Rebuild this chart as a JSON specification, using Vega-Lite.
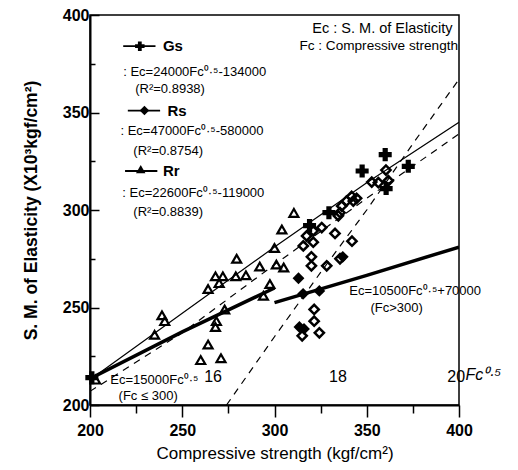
{
  "$schema": "https://vega.github.io/schema/vega-lite/v6.json",
  "width": 369,
  "height": 390,
  "autosize": {"type": "none"},
  "padding": {"left": 90, "top": 15, "right": 59, "bottom": 65},
  "background": "white",
  "config": {
    "view": {"stroke": "black", "strokeWidth": 1.5},
    "font": "Liberation Sans"
  },
  "datasets": {
    "pts": [
      {"fc": 235, "ec": 236, "type": "Rr"},
      {"fc": 239, "ec": 246, "type": "Rr"},
      {"fc": 240.5, "ec": 243, "type": "Rr"},
      {"fc": 260, "ec": 223, "type": "Rr"},
      {"fc": 271, "ec": 224, "type": "Rr"},
      {"fc": 264, "ec": 231, "type": "Rr"},
      {"fc": 268, "ec": 240, "type": "Rr"},
      {"fc": 268.5, "ec": 243, "type": "Rr"},
      {"fc": 273, "ec": 249, "type": "Rr"},
      {"fc": 264, "ec": 259.5, "type": "Rr"},
      {"fc": 268, "ec": 266, "type": "Rr"},
      {"fc": 272, "ec": 266, "type": "Rr"},
      {"fc": 270, "ec": 262.5, "type": "Rr"},
      {"fc": 279.5, "ec": 275, "type": "Rr"},
      {"fc": 279, "ec": 266, "type": "Rr"},
      {"fc": 284.5, "ec": 266.5, "type": "Rr"},
      {"fc": 292, "ec": 271, "type": "Rr"},
      {"fc": 294, "ec": 256, "type": "Rr"},
      {"fc": 297.5, "ec": 262, "type": "Rr"},
      {"fc": 300, "ec": 280.5, "type": "Rr"},
      {"fc": 301, "ec": 272, "type": "Rr"},
      {"fc": 305, "ec": 270.5, "type": "Rr"},
      {"fc": 304, "ec": 290, "type": "Rr"},
      {"fc": 310.5, "ec": 298.5, "type": "Rr"},
      {"fc": 203, "ec": 213, "type": "Rr"},
      {"fc": 201, "ec": 214, "type": "Gs"},
      {"fc": 360, "ec": 328.4, "type": "Gs"},
      {"fc": 372.5, "ec": 322.4, "type": "Gs"},
      {"fc": 347.5, "ec": 320, "type": "Gs"},
      {"fc": 360.5, "ec": 311, "type": "Gs"},
      {"fc": 329.5, "ec": 298.6, "type": "Gs"},
      {"fc": 319, "ec": 292, "type": "Gs"},
      {"fc": 313, "ec": 265, "type": "RsF"},
      {"fc": 315.5, "ec": 257, "type": "RsF"},
      {"fc": 324.3, "ec": 258.5, "type": "RsF"},
      {"fc": 313.5, "ec": 240, "type": "RsF"},
      {"fc": 316, "ec": 239, "type": "RsF"},
      {"fc": 337, "ec": 276, "type": "RsF"},
      {"fc": 341.8, "ec": 307, "type": "RsO"},
      {"fc": 339, "ec": 304.6, "type": "RsO"},
      {"fc": 336.4, "ec": 302, "type": "RsO"},
      {"fc": 342.7, "ec": 304.6, "type": "RsO"},
      {"fc": 344.5, "ec": 306, "type": "RsO"},
      {"fc": 335.5, "ec": 298.6, "type": "RsO"},
      {"fc": 334.6, "ec": 297, "type": "RsO"},
      {"fc": 352.7, "ec": 314.3, "type": "RsO"},
      {"fc": 356.3, "ec": 314, "type": "RsO"},
      {"fc": 360.4, "ec": 320.5, "type": "RsO"},
      {"fc": 361.7, "ec": 315, "type": "RsO"},
      {"fc": 325.6, "ec": 291, "type": "RsO"},
      {"fc": 321, "ec": 289.3, "type": "RsO"},
      {"fc": 317.4, "ec": 286.7, "type": "RsO"},
      {"fc": 315.6, "ec": 281.6, "type": "RsO"},
      {"fc": 321, "ec": 283.5, "type": "RsO"},
      {"fc": 332.8, "ec": 288, "type": "RsO"},
      {"fc": 342, "ec": 284, "type": "RsO"},
      {"fc": 320, "ec": 276, "type": "RsO"},
      {"fc": 335.5, "ec": 275, "type": "RsO"},
      {"fc": 320, "ec": 271.4, "type": "RsO"},
      {"fc": 328.3, "ec": 271.4, "type": "RsO"},
      {"fc": 321.5, "ec": 249, "type": "RsO"},
      {"fc": 321.5, "ec": 243, "type": "RsO"},
      {"fc": 324.3, "ec": 237, "type": "RsO"},
      {"fc": 315, "ec": 235.5, "type": "RsO"}
    ],
    "lines": [
      {"fc": 200, "ec": 213, "line": "Gs"},
      {"fc": 250, "ec": 247, "line": "Gs"},
      {"fc": 300, "ec": 281, "line": "Gs"},
      {"fc": 350, "ec": 314, "line": "Gs"},
      {"fc": 400, "ec": 345, "line": "Gs"},
      {"fc": 200, "ec": 207, "line": "Rr"},
      {"fc": 250, "ec": 237, "line": "Rr"},
      {"fc": 300, "ec": 272, "line": "Rr"},
      {"fc": 350, "ec": 306, "line": "Rr"},
      {"fc": 400, "ec": 339, "line": "Rr"},
      {"fc": 274, "ec": 200, "line": "Rs"},
      {"fc": 300, "ec": 235, "line": "Rs"},
      {"fc": 325, "ec": 268, "line": "Rs"},
      {"fc": 350, "ec": 300, "line": "Rs"},
      {"fc": 375, "ec": 334, "line": "Rs"},
      {"fc": 400, "ec": 367, "line": "Rs"},
      {"fc": 200, "ec": 213.5, "line": "T1"},
      {"fc": 250, "ec": 237.5, "line": "T1"},
      {"fc": 300, "ec": 260, "line": "T1"},
      {"fc": 300, "ec": 252.5, "line": "T2"},
      {"fc": 350, "ec": 266.5, "line": "T2"},
      {"fc": 400, "ec": 281, "line": "T2"}
    ],
    "leg": [
      {"fc": 218, "ec": 384, "g": "Gs"},
      {"fc": 235.5, "ec": 384, "g": "Gs"},
      {"fc": 220.5, "ec": 351, "g": "Rs"},
      {"fc": 238, "ec": 351, "g": "Rs"},
      {"fc": 219, "ec": 320, "g": "Rr"},
      {"fc": 236.5, "ec": 320, "g": "Rr"}
    ],
    "legpts": [
      {"fc": 227, "ec": 384, "type": "Gs"},
      {"fc": 229.5, "ec": 351, "type": "Rs"},
      {"fc": 227.5, "ec": 321, "type": "Rr"}
    ],
    "eq": [
      {"fc": 218, "ec": 370.8, "text": ": Ec=24000Fc⁰·⁵-134000"},
      {"fc": 224.5, "ec": 362, "text": "(R²=0.8938)"},
      {"fc": 216.5, "ec": 340.5, "text": ": Ec=47000Fc⁰·⁵-580000"},
      {"fc": 223.5, "ec": 330.3, "text": "(R²=0.8754)"},
      {"fc": 217.5, "ec": 308.7, "text": ": Ec=22600Fc⁰·⁵-119000"},
      {"fc": 223.5, "ec": 299, "text": "(R²=0.8839)"},
      {"fc": 340.5, "ec": 258.5, "text": "Ec=10500Fc⁰·⁵+70000"},
      {"fc": 352, "ec": 249.7, "text": "(Fc>300)"},
      {"fc": 211, "ec": 212.8, "text": "Ec=15000Fc⁰·⁵"},
      {"fc": 215.5, "ec": 204.6, "text": "(Fc ≤ 300)"}
    ],
    "legtext": [
      {"fc": 239.5, "ec": 384, "text": "Gs"},
      {"fc": 242, "ec": 351, "text": "Rs"},
      {"fc": 239.5, "ec": 320, "text": "Rr"}
    ],
    "rtext": [
      {"fc": 396.5, "ec": 393, "text": "Ec : S. M. of Elasticity", "fs": 14.5},
      {"fc": 399.5, "ec": 384, "text": "Fc : Compressive strength", "fs": 13.6}
    ],
    "nums": [
      {"fc": 266.7, "ec": 214.5, "text": "16"},
      {"fc": 334.4, "ec": 214.5, "text": "18"},
      {"fc": 398.5, "ec": 214.5, "text": "20"}
    ],
    "fcsup": [
      {"fc": 403.5, "ec": 215.5, "text": "Fc⁰·⁵"}
    ]
  },
  "encoding": {
    "x": {
      "field": "fc", "type": "quantitative",
      "scale": {"domain": [200, 400], "nice": false, "zero": false},
      "axis": {
        "title": "Compressive strength (kgf/cm²)",
        "values": [200, 225, 250, 275, 300, 325, 350, 375, 400],
        "labelExpr": "datum.value % 50 === 0 ? datum.label : ''",
        "tickSize": {"condition": {"test": "datum.value % 50 === 0", "value": 12}, "value": 8},
        "tickColor": "black", "domainColor": "black", "domainWidth": 2, "tickWidth": 1.5,
        "labelFont": "Liberation Sans", "labelFontSize": 16, "labelFontWeight": "bold", "labelColor": "black",
        "labelPadding": 5, "labelFlush": false,
        "titleFont": "Liberation Sans", "titleFontSize": 17, "titleFontWeight": "normal", "titleColor": "black",
        "titlePadding": 7, "grid": false
      }
    },
    "y": {
      "field": "ec", "type": "quantitative",
      "scale": {"domain": [200, 400], "nice": false, "zero": false},
      "axis": {
        "title": "S. M. of Elasticity (X10³kgf/cm²)",
        "values": [200, 225, 250, 275, 300, 325, 350, 375, 400],
        "labelExpr": "datum.value % 50 === 0 ? datum.label : ''",
        "tickSize": {"condition": {"test": "datum.value % 50 === 0", "value": -9}, "value": -5},
        "tickColor": "black", "domainColor": "black", "domainWidth": 2, "tickWidth": 1.5,
        "labelFont": "Liberation Sans", "labelFontSize": 16, "labelFontWeight": "bold", "labelColor": "black",
        "labelPadding": 10, "labelFlush": false,
        "titleFont": "Liberation Sans", "titleFontSize": 17.5, "titleFontWeight": "bold", "titleColor": "black",
        "titlePadding": 22, "grid": false
      }
    }
  },
  "layer": [
    {
      "data": {"name": "lines"},
      "transform": [{"filter": "datum.line === 'Gs'"}],
      "mark": {"type": "line", "color": "black", "strokeWidth": 1.2, "clip": true},
      "encoding": {"detail": {"field": "line"}}
    },
    {
      "data": {"name": "lines"},
      "transform": [{"filter": "datum.line === 'Rs' || datum.line === 'Rr'"}],
      "mark": {"type": "line", "color": "black", "strokeWidth": 1.2, "strokeDash": [7, 6], "clip": true},
      "encoding": {"detail": {"field": "line"}}
    },
    {
      "data": {"name": "lines"},
      "transform": [{"filter": "datum.line === 'T1' || datum.line === 'T2'"}],
      "mark": {"type": "line", "color": "black", "strokeWidth": 3.5, "clip": true},
      "encoding": {"detail": {"field": "line"}}
    },
    {
      "data": {"name": "pts"},
      "transform": [{"filter": "datum.type === 'Rr'"}],
      "mark": {"type": "point", "shape": "triangle-up", "filled": false, "color": "black", "opacity": 1, "strokeWidth": 2.2, "size": 80}
    },
    {
      "data": {"name": "pts"},
      "transform": [{"filter": "datum.type === 'RsO'"}],
      "mark": {"type": "point", "shape": "diamond", "filled": false, "color": "black", "opacity": 1, "strokeWidth": 2.5, "size": 85}
    },
    {
      "data": {"name": "pts"},
      "transform": [{"filter": "datum.type === 'RsF'"}],
      "mark": {"type": "point", "shape": "diamond", "filled": true, "color": "black", "opacity": 1, "size": 140}
    },
    {
      "data": {"name": "pts"},
      "transform": [{"filter": "datum.type === 'Gs'"}],
      "mark": {"type": "point", "shape": "cross", "filled": true, "color": "black", "opacity": 1, "size": 170}
    },
    {
      "data": {"name": "leg"},
      "mark": {"type": "line", "color": "black", "strokeWidth": 1.8},
      "encoding": {"detail": {"field": "g"}}
    },
    {
      "data": {"name": "legpts"},
      "mark": {"type": "point", "filled": true, "color": "black", "opacity": 1, "size": 90},
      "encoding": {
        "shape": {"field": "type", "type": "nominal", "scale": {"domain": ["Gs", "Rs", "Rr"], "range": ["cross", "diamond", "triangle-up"]}, "legend": null}
      }
    },
    {
      "data": {"name": "eq"},
      "mark": {"type": "text", "align": "left", "baseline": "middle", "font": "Liberation Sans", "fontSize": 13, "color": "black"},
      "encoding": {"text": {"field": "text"}}
    },
    {
      "data": {"name": "legtext"},
      "mark": {"type": "text", "align": "left", "baseline": "middle", "font": "Liberation Sans", "fontSize": 15, "fontWeight": "bold", "color": "black"},
      "encoding": {"text": {"field": "text"}}
    },
    {
      "data": {"name": "rtext"},
      "mark": {"type": "text", "align": "right", "baseline": "middle", "font": "Liberation Sans", "color": "black"},
      "encoding": {"text": {"field": "text"}, "size": {"field": "fs", "type": "quantitative", "scale": null}}
    },
    {
      "data": {"name": "nums"},
      "mark": {"type": "text", "align": "center", "baseline": "middle", "font": "Liberation Sans", "fontSize": 16, "color": "black"},
      "encoding": {"text": {"field": "text"}}
    },
    {
      "data": {"name": "fcsup"},
      "mark": {"type": "text", "align": "left", "baseline": "middle", "font": "Liberation Sans", "fontSize": 16, "fontStyle": "italic", "color": "black"},
      "encoding": {"text": {"field": "text"}}
    }
  ]
}
